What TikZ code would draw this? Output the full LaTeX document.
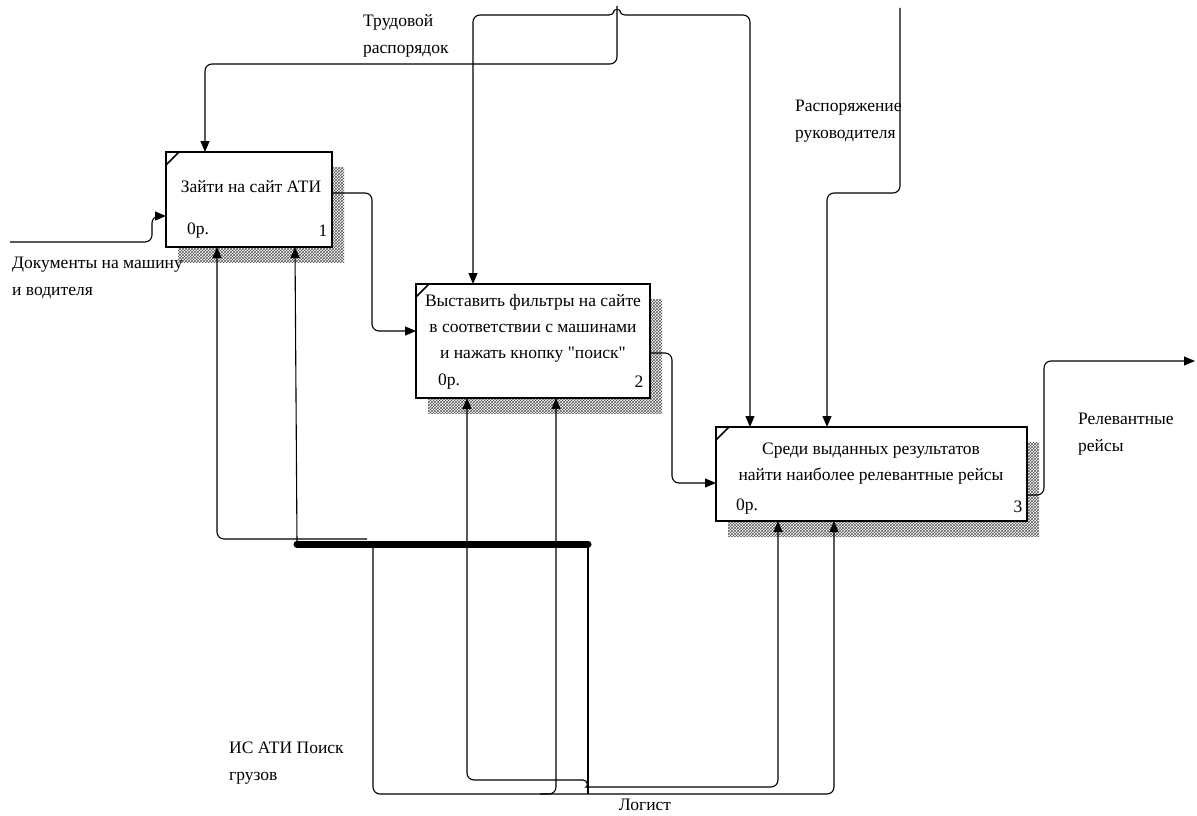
\documentclass[tikz,border=0pt]{standalone}
\usepackage{fontspec}
\setmainfont{Liberation Serif}[Ligatures=TeXOff]
\usetikzlibrary{arrows.meta,patterns,calc}

\begin{document}
\begin{tikzpicture}[x=1pt,y=-1pt,
  conn/.style={line width=1.1pt, rounded corners=7pt},
  arr/.style={conn, -{Triangle[length=11pt,width=9pt]}},
  actshape/.style={rectangle, inner sep=0pt, outer sep=0pt, anchor=north west},
  actline/.style={line width=2.6pt, fill=white},
  shadow/.style={pattern=crosshatch, pattern color=black!65},
  txt/.style={font=\fontsize{17.5}{27}\selectfont, inner sep=0pt},
  intxt/.style={font=\fontsize{17.5}{26}\selectfont, inner sep=0pt, align=center},
]
\useasboundingbox (0,0) rectangle (1197,816);

% activity boxes (placed first, drawn with their shadows)
\path node[actshape, minimum width=166pt, minimum height=95pt]  (b1) at (166,152) {};
\path node[actshape, minimum width=234pt, minimum height=114pt] (b2) at (416,284) {};
\path node[actshape, minimum width=311pt, minimum height=94pt]  (b3) at (716,427) {};

\foreach \b in {b1,b2,b3}{
  \fill[shadow] ([shift={(12,15)}]\b.north west) rectangle ([shift={(12,15)}]\b.south east);
  \draw[actline] (\b.north west) rectangle (\b.south east);
  \draw[line width=1.6pt] ($(\b.north west)+(0,13)$) -- ($(\b.north west)+(13,0)$);
}

% box contents
\node[intxt] (t1) at (251,187) {Зайти на сайт АТИ};
\node[intxt] (t2) at (533,328) {Выставить фильтры на сайте\\в соответствии с машинами\\и нажать кнопку "поиск"};
\node[intxt] (t3) at (871,464) {Среди выданных результатов\\найти наиболее релевантные рейсы};

\node[txt] (c1) at (198,231) {0р.};
\node[txt] (n1) at (323,231) {1};
\node[txt] (c2) at (449,382) {0р.};
\node[txt] (n2) at (639,382) {2};
\node[txt] (c3) at (747,507) {0р.};
\node[txt] (n3) at (1018,507) {3};

% arrow labels
\node[txt, align=left, anchor=west] (lctl1) at (363,36) {Трудовой\\распорядок};
\node[txt, align=left, anchor=west] (lctl2) at (795,121) {Распоряжение\\руководителя};
\node[txt, align=left, anchor=west] (lin)   at (12,278) {Документы на машину\\и водителя};
\node[txt, align=left, anchor=west] (lout)  at (1078,434) {Релевантные\\рейсы};
\node[txt, align=left, anchor=west] (lmec1) at (229,763) {ИС АТИ Поиск\\грузов};
\node[txt] (lmec2) at (645,805) {Логист};

% free ends and junctions
\coordinate (inStart)  at (10,242);
\coordinate (outEnd)   at (1195,361);
\coordinate (ctlTop)   at (900,8);
\coordinate (bumpL)    at (609,15);
\coordinate (bumpR)    at (625,15);
\coordinate (bumpTop)  at (617,6);
\coordinate (barL)     at (297,544);
\coordinate (barR)     at (588,544);

% input
\draw[arr] (inStart) -- (152,242) -- (152,216) -- ($(b1.north west)+(0,64)$);

% box 1 -> box 2 -> box 3 -> output
\draw[arr] ($(b1.north east)+(0,41)$) -- (372,193) -- (372,331) -- ($(b2.north west)+(0,47)$);
\draw[arr] ($(b2.north east)+(0,69)$) -- (672,353) -- (672,483) -- ($(b3.north west)+(0,56)$);
\draw[arr] ($(b3.north east)+(0,68)$) -- (1044,495) -- (1044,361) -- (outEnd);

% controls
\draw[conn] (bumpL) .. controls (614,15) and (615,9) .. (bumpTop) .. controls (619,9) and (620,15) .. (bumpR);
\draw[arr] (bumpTop) -- (617,64) -- (205,64) -- ($(b1.north west)+(39,0)$);
\draw[arr] (bumpL) -- (473,15) -- ($(b2.north west)+(57,0)$);
\draw[arr] (bumpR) -- (750,15) -- ($(b3.north west)+(34,0)$);
\draw[arr] (ctlTop) -- (900,193) -- (827,193) -- ($(b3.north west)+(111,0)$);

% mechanisms
\draw[line width=7pt, line cap=round] (barL) -- (barR);
\draw[arr] (367,539) -- (217,539) -- ($(b1.south west)+(51,0)$);
\draw[arr] (barL) -- ($(b1.south west)+(129,0)$);
\draw[conn] (barR) -- (588,794);
\draw[arr] (373,544) -- (373,794) -- (834,794) -- ($(b3.south west)+(118,0)$);
\draw[arr] (540,794) -- (556,794) -- ($(b2.south west)+(140,0)$);
\draw[arr] (583,780) -- (467,780) -- ($(b2.south west)+(51,0)$);
\draw[arr] (583,780) .. controls (588,780) and (588,787) .. (593,787) -- (778,787) -- ($(b3.south west)+(62,0)$);
\end{tikzpicture}
\end{document}
